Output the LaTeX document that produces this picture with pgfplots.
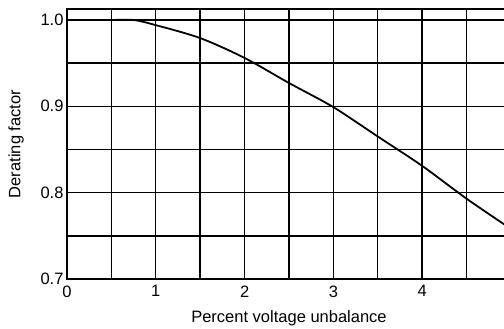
\documentclass[border=0pt]{standalone}
\usepackage{fontspec}
\setmainfont{Liberation Sans}
\usepackage{pgfplots}
\pgfplotsset{compat=1.18}
\begin{document}
\begin{tikzpicture}
% page frame: the axis runs on past the right edge, as on the printed sheet
\useasboundingbox (-67pt,-50pt) rectangle (437pt,279pt);
\begin{axis}[
  at={(0pt,0pt)}, anchor=south west,
  scale only axis, width=444pt, height=270pt,
  xmin=0, xmax=5, ymin=0.7, ymax=1.0127,
  xtick={0,1,2,3,4},
  ytick={0.7,0.8,0.9,1.0},
  minor xtick={0.5,1.5,2.5,3.5,4.5},
  minor ytick={0.75,0.85,0.95},
  extra x ticks={5}, extra x tick labels={},
  extra x tick style={grid=major},
  grid=both,
  major grid style={black, line width=1.4pt},
  minor grid style={black, line width=1.4pt},
  axis line style={black, line width=2pt},
  tick style={draw=none},
  /pgf/number format/assume math mode=true,
  yticklabel style={/pgf/number format/.cd, fixed, fixed zerofill, precision=1},
  ticklabel style={font=\fontsize{16.5}{16.5}\selectfont},
  xticklabel style={yshift=-3pt},
  xlabel={Percent voltage unbalance},
  ylabel={Derating factor},
  xlabel style={at={(axis description cs:0.5,0)}, anchor=center, yshift=-39pt,
                font=\fontsize{16.5}{16.5}\selectfont},
  ylabel style={at={([xshift=-51pt]axis description cs:0,0.5)}, anchor=center,
                font=\fontsize{16.5}{16.5}\selectfont},
]
\addplot[black, line width=1.8pt, smooth, tension=0.5] coordinates {
  (0,1.000) (0.5,1.000) (0.75,1.000) (1.0,0.994) (1.5,0.979) (2.0,0.956)
  (2.5,0.927) (3.0,0.899) (3.5,0.865) (4.0,0.831) (4.5,0.793) (5.0,0.758)
};
\end{axis}
\end{tikzpicture}
\end{document}
